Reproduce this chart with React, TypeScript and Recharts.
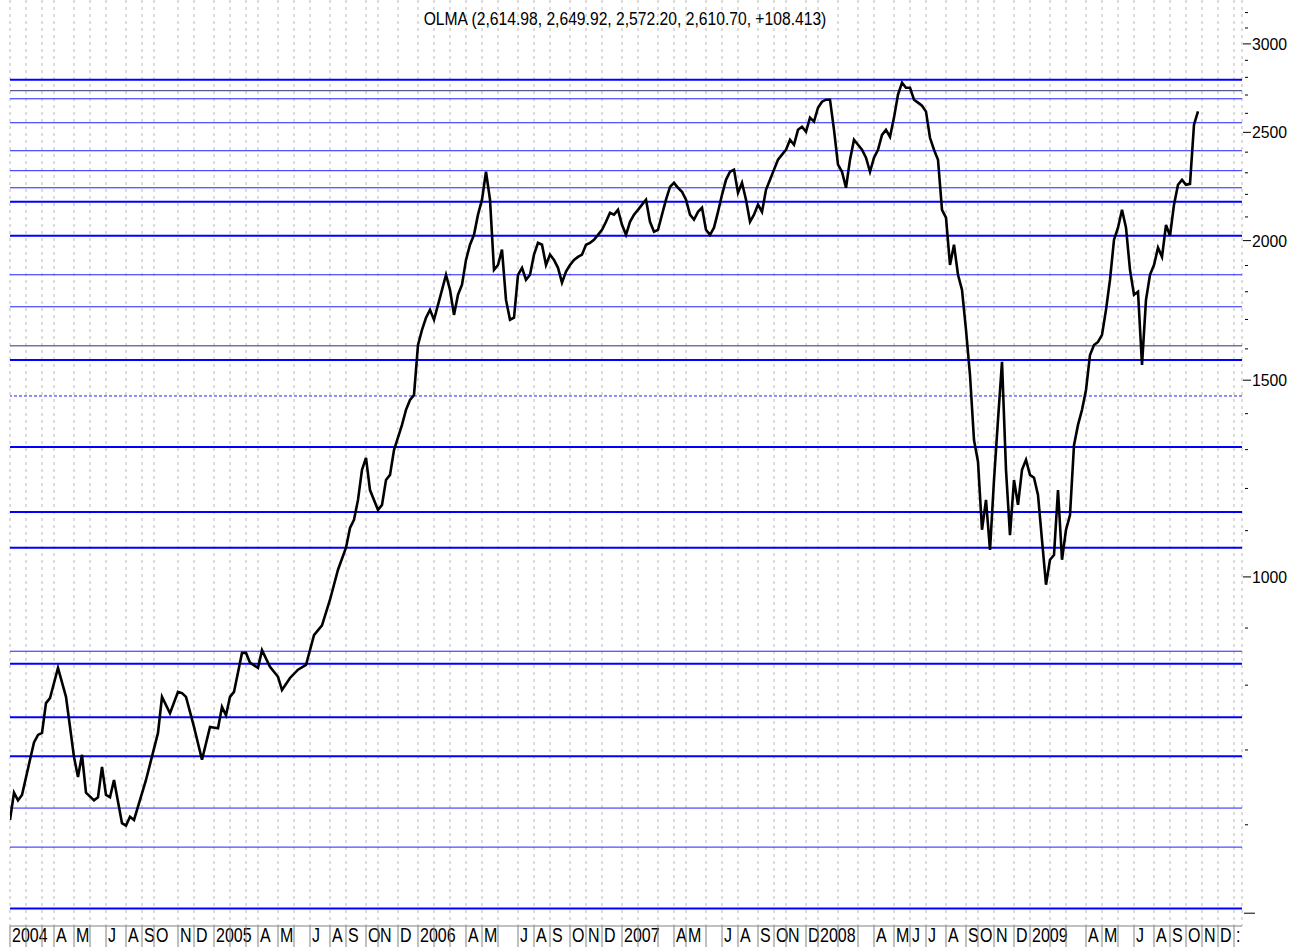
import React from 'react';
import { LineChart, Line, XAxis, YAxis, CartesianGrid, ReferenceLine } from 'recharts';

// weekly bars: week number since first bar of 2004, and weekly close
const weeks = [
  0, 1, 2, 3, 5, 6, 7, 8, 9, 10, 12, 14, 16, 17, 18, 19, 21, 22, 23, 24, 25, 26, 28, 29, 30, 31, 34, 37, 38, 40,
  42, 43, 44, 46, 48, 50, 52, 53, 54, 55, 56, 58, 59, 60, 62, 63, 65, 67, 68, 70, 72, 74, 76, 78, 80, 82, 84, 85,
  86, 87, 88, 89, 90, 92, 93, 94, 95, 96, 98, 99, 100, 101, 102, 103, 104, 105, 106, 107, 108, 109, 110, 111, 112,
  113, 114, 115, 116, 117, 118, 119, 120, 121, 122, 123, 124, 125, 126, 127, 128, 129, 130, 131, 132, 133, 134,
  135, 136, 137, 138, 139, 140, 141, 142, 143, 144, 145, 146, 147, 148, 149, 150, 151, 152, 153, 154, 155, 156,
  157, 158, 159, 160, 161, 162, 163, 164, 165, 166, 167, 168, 169, 170, 171, 172, 173, 174, 175, 176, 177, 178,
  179, 180, 181, 182, 183, 184, 185, 186, 187, 188, 189, 190, 191, 192, 193, 194, 195, 196, 197, 198, 199, 200,
  201, 202, 203, 204, 205, 206, 207, 208, 209, 210, 211, 212, 213, 214, 215, 216, 217, 218, 219, 220, 221, 222,
  223, 224, 225, 226, 227, 228, 229, 230, 231, 232, 233, 234, 235, 236, 237, 238, 239, 240, 241, 242, 243, 244,
  245, 246, 247, 248, 249, 250, 251, 252, 253, 254, 255, 256, 257, 258, 259, 260, 261, 262, 263, 264, 265, 266,
  267, 268, 269, 270, 271, 272, 273, 274, 275, 276, 277, 278, 279, 280, 281, 282, 283, 284, 285, 286, 287, 288,
  289, 290, 291, 292, 293, 294, 295, 296, 297,
];

const closes = [
  606, 641, 631, 638, 686, 711, 722, 725, 771, 779, 829, 781, 690, 662, 693, 641, 631, 635, 676, 638, 635, 658, 602,
  599, 610, 606, 658, 725, 781, 755, 789, 787, 781, 734, 686, 734, 732, 765, 752, 781, 789, 855, 855, 838, 829, 860,
  831, 814, 792, 812, 826, 834, 887, 905, 954, 1015, 1062, 1106, 1125, 1172, 1247, 1278, 1196, 1148, 1160, 1221,
  1234, 1299, 1368, 1411, 1440, 1455, 1613, 1664, 1706, 1734, 1699, 1752, 1807, 1864, 1807, 1716, 1789, 1826, 1922,
  1983, 2024, 2110, 2176, 2305, 2176, 1883, 1902, 1963, 1770, 1699, 1706, 1864, 1891, 1845, 1864, 1943, 1991, 1983,
  1902, 1943, 1922, 1891, 1834, 1876, 1902, 1922, 1934, 1943, 1983, 1991, 2003, 2024, 2045, 2079, 2118, 2110, 2131,
  2066, 2024, 2079, 2110, 2131, 2154, 2176, 2079, 2037, 2045, 2110, 2176, 2234, 2253, 2230, 2212, 2176, 2110, 2088,
  2122, 2140, 2045, 2024, 2054, 2122, 2198, 2267, 2305, 2315, 2207, 2253, 2176, 2079, 2110, 2154, 2122, 2221, 2267,
  2315, 2363, 2388, 2412, 2462, 2437, 2513, 2529, 2503, 2577, 2556, 2630, 2663, 2674, 2674, 2513, 2339, 2305, 2230,
  2363, 2462, 2437, 2412, 2373, 2305, 2373, 2412, 2487, 2513, 2477, 2577, 2703, 2770, 2741, 2741, 2674, 2658, 2641,
  2609, 2472, 2412, 2363, 2131, 2097, 1902, 1983, 1864, 1807, 1664, 1516, 1326, 1268, 1102, 1172, 1057, 1221, 1382,
  1558, 1247, 1090, 1221, 1160, 1247, 1273, 1234, 1227, 1184, 1079, 984, 1036, 1046, 1196, 1036, 1102, 1136, 1312,
  1368, 1411, 1470, 1580, 1613, 1623, 1647, 1734, 1845, 2003, 2054, 2131, 2054, 1883, 1789, 1800, 1548, 1770, 1864,
  1902, 1971, 1934, 2066, 2020, 2154, 2244, 2267, 2244, 2248, 2540, 2611,
];

// first bar of each month, and the label printed for it ('' = no room)
const monthWeeks = [
  0, 4, 8, 11, 16, 20, 24, 29, 33, 36, 42, 46,
  51, 55, 59, 62, 67, 71, 75, 80, 84, 89, 92, 97,
  102, 106, 110, 114, 118, 122, 127, 131, 135, 140, 144, 148,
  153, 157, 162, 166, 169, 174, 178, 182, 187, 191, 194, 199,
  202, 207, 212, 216, 221, 225, 229, 234, 239, 242, 246, 251,
  255, 260, 264, 269, 273, 277, 281, 286, 290, 294, 298, 302,
  306,
];
const monthLabels = [
  '2004', '', '', 'A', 'M', '', 'J', 'A', 'S', 'O', 'N', 'D',
  '2005', '', '', 'A', 'M', '', 'J', 'A', 'S', 'O', 'N', 'D',
  '2006', '', '', 'A', 'M', '', 'J', 'A', 'S', 'O', 'N', 'D',
  '2007', '', '', 'A', 'M', '', 'J', 'A', 'S', 'O', 'N', 'D',
  '2008', '', '', 'A', 'M', 'J', 'J', 'A', 'S', 'O', 'N', 'D',
  '2009', '', '', 'A', 'M', '', 'J', 'A', 'S', 'O', 'N', 'D',
  ':',
];

const yTicks = [500, 600, 700, 800, 900, 1000, 1100, 1200, 1300, 1400, 1500, 1600, 1700, 1800, 1900, 2000, 2100, 2200, 2300, 2400, 2500, 2600, 2700, 2800, 2900, 3000, 3100, 3200];
const yLabels = [1000, 1500, 2000, 2500, 3000];

// drawn support / resistance levels
const thickLevels = [2786, 2167, 2020, 1564, 1307, 1143, 1062, 836, 749, 691, 505];
const thinLevels = [2679, 2550, 2407, 2310, 2230, 1864, 1745, 858, 621, 573];
const darkLevels = [2724, 1610];
const dashedLevels = [1452];

const data = weeks.map((w, i) => ({ w, close: closes[i] }));

const font = '"Liberation Sans", Arial, sans-serif';

function MonthTick(props: any) {
  const { x, y, payload } = props;
  const label = monthLabels[monthWeeks.indexOf(payload.value)];
  return (
    <g>
      {label ? (
        <text
          transform={`translate(${x + 2},${y + 16}) scale(0.8,1)`}
          fontSize={20}
          fontFamily={font}
          fill="#000"
        >
          {label}
        </text>
      ) : null}
      <line x1={x} x2={x} y1={y} y2={y + 21} stroke="#808080" />
    </g>
  );
}

function PriceTick(props: any) {
  const { x, y, payload } = props;
  const v = payload.value;
  if (yLabels.includes(v)) {
    return (
      <g>
        <line x1={x + 1} x2={x + 9} y1={y} y2={y} stroke="#000" />
        <text
          transform={`translate(${x + 10},${y + 6}) scale(0.93,1)`}
          fontSize={17}
          fontFamily={font}
          fill="#000"
        >
          {v}
        </text>
      </g>
    );
  }
  if (v === 500) return <line x1={x + 2} x2={x + 13} y1={y} y2={y} stroke="#000" />;
  return <line x1={x + 3} x2={x + 6} y1={y} y2={y} stroke="#000" />;
}

export default function App() {
  return (
    <div style={{ position: 'absolute', left: 0, top: 0, width: 1303, height: 947, background: '#fff' }}>
      <LineChart width={1303} height={947} data={data} margin={{ top: 0, right: 0, bottom: 0, left: 10 }}>
        <CartesianGrid horizontal={false} vertical strokeDasharray="3 4" stroke="#b8b8b8" />
        <XAxis
          dataKey="w"
          type="number"
          domain={[0, 308]}
          ticks={monthWeeks}
          interval={0}
          allowDataOverflow
          height={21}
          tickSize={0}
          tickMargin={0}
          tickLine={false}
          axisLine={{ stroke: '#808080' }}
          tick={<MonthTick />}
        />
        <YAxis
          orientation="right"
          scale="log"
          type="number"
          domain={[487, 3284]}
          ticks={yTicks}
          interval={0}
          allowDataOverflow
          width={61}
          tickSize={0}
          tickMargin={0}
          tickLine={false}
          axisLine={false}
          tick={<PriceTick />}
        />
        {thinLevels.map((v) => (
          <ReferenceLine key={`thin-${v}`} y={v} stroke="#2020ff" strokeWidth={1} />
        ))}
        {darkLevels.map((v) => (
          <ReferenceLine key={`dark-${v}`} y={v} stroke="#303070" strokeWidth={1} />
        ))}
        {dashedLevels.map((v) => (
          <ReferenceLine key={`dash-${v}`} y={v} stroke="#2020ff" strokeWidth={1} strokeDasharray="3 2" />
        ))}
        {thickLevels.map((v) => (
          <ReferenceLine key={`thick-${v}`} y={v} stroke="#0000ff" strokeWidth={2} />
        ))}
        <Line
          type="linear"
          dataKey="close"
          stroke="#000"
          strokeWidth={2.6}
          dot={false}
          isAnimationActive={false}
        />
      </LineChart>
      <div
        style={{
          position: 'absolute',
          left: 0,
          top: 9,
          width: 1250,
          textAlign: 'center',
          fontFamily: font,
          fontSize: 18,
          lineHeight: '20px',
          color: '#000',
          transform: 'scaleX(0.87)',
        }}
      >
        OLMA (2,614.98, 2,649.92, 2,572.20, 2,610.70, +108.413)
      </div>
    </div>
  );
}
